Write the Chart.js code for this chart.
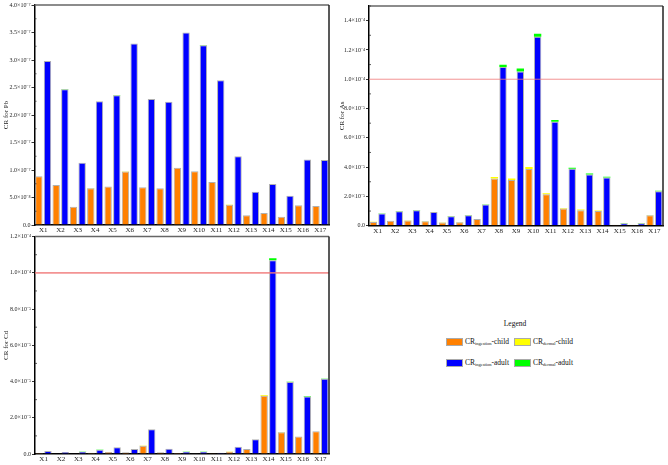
<!DOCTYPE html>
<html>
<head>
<meta charset="utf-8">
<script src="https://cdn.jsdelivr.net/npm/chart.js@4.4.1/dist/chart.umd.min.js"></script>
<style>
  html, body { margin: 0; padding: 0; background: #fff; }
  body { width: 668px; height: 465px; position: relative; overflow: hidden; font-family: 'Liberation Serif', serif; }
  .panel { position: absolute; }
  #legend { position: absolute; left: 430px; top: 316px; width: 170px; font-size: 7.5px; color: #111; -webkit-font-smoothing: antialiased; }
  #legend .title { position: absolute; left: 70px; top: 3px; width: 30px; text-align: center; }
  #legend .item { position: absolute; white-space: nowrap; line-height: 8px; color: #111; }
  #legend .sw { display: inline-block; width: 15px; height: 6px; border: 1px solid #aaa; vertical-align: middle; margin-right: 2px; }
  #legend sub { font-size: 4.5px; vertical-align: -1px; color: #111; }
</style>
</head>
<body>
<div class="panel" style="left:0;top:0;width:334px;height:235px"><canvas id="cPb"></canvas></div>
<div class="panel" style="left:336px;top:0;width:332px;height:235px"><canvas id="cAs"></canvas></div>
<div class="panel" style="left:0;top:232px;width:334px;height:233px"><canvas id="cCd"></canvas></div>
<div id="legend">
  <div class="title">Legend</div>
  <div class="item" style="left:16px;top:22px"><span class="sw" style="background:#FF8000"></span>CR<sub>ingestion</sub>-child</div>
  <div class="item" style="left:84px;top:22px"><span class="sw" style="background:#FFFF00"></span>CR<sub>dermal</sub>-child</div>
  <div class="item" style="left:16px;top:43px"><span class="sw" style="background:#0000FF"></span>CR<sub>ingestion</sub>-adult</div>
  <div class="item" style="left:84px;top:43px"><span class="sw" style="background:#00FF00"></span>CR<sub>dermal</sub>-adult</div>
</div>
<script>
const categories = ['X1','X2','X3','X4','X5','X6','X7','X8','X9','X10','X11','X12','X13','X14','X15','X16','X17'];

// Pb
const pbIngChild = [0.885e-7,0.727e-7,0.33e-7,0.67e-7,0.70e-7,0.975e-7,0.685e-7,0.667e-7,1.04e-7,0.976e-7,0.78e-7,0.37e-7,0.176e-7,0.218e-7,0.15e-7,0.357e-7,0.345e-7];
const pbDerChild = [1e-10,1e-10,1e-10,1e-10,1e-10,1e-10,1e-10,1e-10,1e-10,1e-10,1e-10,1e-10,1e-10,1e-10,1e-10,1e-10,1e-10];
const pbIngAdult = [2.98e-7,2.47e-7,1.13e-7,2.25e-7,2.36e-7,3.30e-7,2.29e-7,2.24e-7,3.50e-7,3.27e-7,2.63e-7,1.25e-7,0.605e-7,0.745e-7,0.53e-7,1.19e-7,1.18e-7];
const pbDerAdult = [2e-10,2e-10,1e-10,2e-10,2e-10,2e-10,2e-10,2e-10,2e-10,2e-10,2e-10,1e-10,1e-10,1e-10,1e-10,1e-10,1e-10];
const pbTicks = ['0.0','5.0×10⁻⁸','1.0×10⁻⁷','1.5×10⁻⁷','2.0×10⁻⁷','2.5×10⁻⁷','3.0×10⁻⁷','3.5×10⁻⁷','4.0×10⁻⁷'];

// As
const asIngChild = [0.26e-5,0.33e-5,0.36e-5,0.31e-5,0.22e-5,0.24e-5,0.45e-5,3.23e-5,3.12e-5,3.87e-5,2.14e-5,1.17e-5,1.06e-5,1.00e-5,0.06e-5,0.06e-5,0.71e-5];
const asDerChild = [0.01e-5,0.01e-5,0.01e-5,0.01e-5,0.01e-5,0.01e-5,0.01e-5,0.10e-5,0.10e-5,0.13e-5,0.08e-5,0.04e-5,0.04e-5,0.03e-5,0.01e-5,0.01e-5,0.02e-5];
const asIngAdult = [0.84e-5,0.99e-5,1.06e-5,0.93e-5,0.65e-5,0.72e-5,1.44e-5,10.84e-5,10.53e-5,12.9e-5,7.10e-5,3.88e-5,3.49e-5,3.29e-5,0.17e-5,0.17e-5,2.35e-5];
const asDerAdult = [0.01e-5,0.01e-5,0.01e-5,0.01e-5,0.01e-5,0.01e-5,0.02e-5,0.15e-5,0.20e-5,0.20e-5,0.12e-5,0.07e-5,0.07e-5,0.05e-5,0.01e-5,0.01e-5,0.03e-5];
const asTicks = ['0.0','2.0×10⁻⁵','4.0×10⁻⁵','6.0×10⁻⁵','8.0×10⁻⁵','1.0×10⁻⁴','1.2×10⁻⁴','1.4×10⁻⁴'];

// Cd
const cdIngChild = [0.05e-5,0.03e-5,0.03e-5,0.07e-5,0.11e-5,0.09e-5,0.46e-5,0.09e-5,0.05e-5,0.04e-5,0.01e-5,0.13e-5,0.27e-5,3.22e-5,1.20e-5,0.96e-5,1.25e-5];
const cdDerChild = [0.001e-5,0.001e-5,0.001e-5,0.001e-5,0.002e-5,0.002e-5,0.005e-5,0.002e-5,0.001e-5,0.001e-5,0.001e-5,0.002e-5,0.004e-5,0.03e-5,0.01e-5,0.01e-5,0.01e-5];
const cdIngAdult = [0.16e-5,0.11e-5,0.13e-5,0.24e-5,0.37e-5,0.27e-5,1.36e-5,0.29e-5,0.13e-5,0.13e-5,0.07e-5,0.40e-5,0.81e-5,10.7e-5,3.97e-5,3.18e-5,4.15e-5];
const cdDerAdult = [0.002e-5,0.002e-5,0.002e-5,0.003e-5,0.004e-5,0.003e-5,0.01e-5,0.003e-5,0.002e-5,0.002e-5,0.001e-5,0.005e-5,0.01e-5,0.10e-5,0.02e-5,0.02e-5,0.02e-5];
const cdTicks = ['0.0','2.0×10⁻⁵','4.0×10⁻⁵','6.0×10⁻⁵','8.0×10⁻⁵','1.0×10⁻⁴','1.2×10⁻⁴'];

const riskThreshold = 1e-4;

const FONT = "'Liberation Serif', 'Times New Roman', serif";

const framePlugin = {
  id: 'frame',
  afterDraw(chart) {
    const a = chart.chartArea, ctx = chart.ctx;
    ctx.save();
    ctx.lineWidth = 1.5;
    ctx.strokeStyle = '#666';
    ctx.beginPath(); ctx.moveTo(a.left, a.top); ctx.lineTo(a.right, a.top); ctx.stroke();
    ctx.strokeStyle = '#222';
    ctx.beginPath(); ctx.moveTo(a.right, a.top); ctx.lineTo(a.right, a.bottom); ctx.stroke();
    // minor ticks
    const y = chart.scales.y;
    const tv = y.ticks.map(t => t.value);
    ctx.lineWidth = 0.8; ctx.strokeStyle = '#333';
    for (let i = 0; i < tv.length; i++) {
      const next = i + 1 < tv.length ? tv[i+1] : tv[i] + (tv[1]-tv[0]);
      const mid = (tv[i] + next) / 2;
      if (mid > y.max) continue;
      const py = y.getPixelForValue(mid);
      ctx.beginPath(); ctx.moveTo(a.left, py); ctx.lineTo(a.left + 2, py); ctx.stroke();
    }
    ctx.restore();
  }
};

const thresholdPlugin = {
  id: 'threshold',
  afterDatasetsDraw(chart, args, opts) {
    if (!opts || !opts.value) return;
    const a = chart.chartArea, ctx = chart.ctx;
    const py = chart.scales.y.getPixelForValue(opts.value);
    ctx.save();
    ctx.strokeStyle = opts.color;
    ctx.lineWidth = opts.width;
    ctx.beginPath(); ctx.moveTo(a.left, py); ctx.lineTo(a.right, py); ctx.stroke();
    ctx.restore();
  }
};

function makeChart(id, ic, dc, ia, da, ticks, step, max, title, axisW, axisH, pad, threshold, thrW) {
  const ds = (label, data, color, stack, bw) => ({
    label, data, backgroundColor: color, stack,
    borderColor: 'rgba(150,150,150,0.75)', borderWidth: bw,
    categoryPercentage: 1.0, barPercentage: 0.85
  });
  return new Chart(document.getElementById(id), {
    type: 'bar',
    data: {
      labels: categories,
      datasets: [
        ds('CR ingestion-child', ic, '#FF8000', 'child', 1),
        ds('CR dermal-child', dc, '#FFFF00', 'child', 0),
        ds('CR ingestion-adult', ia, '#0000FF', 'adult', 1),
        ds('CR dermal-adult', da, '#00FF00', 'adult', 0)
      ]
    },
    options: {
      responsive: true,
      maintainAspectRatio: false,
      animation: false,
      layout: { padding: pad },
      plugins: {
        legend: { display: false },
        tooltip: { enabled: false },
        threshold: threshold ? { value: threshold, color: 'rgba(240,120,120,0.8)', width: thrW } : {}
      },
      scales: {
        x: {
          stacked: true,
          grid: { display: false, drawTicks: false },
          border: { display: true, color: '#000', width: 1.5 },
          ticks: { color: '#222', font: { family: FONT, size: 7 }, padding: 1, maxRotation: 0, autoSkip: false },
          afterFit(s) { s.height = axisH; }
        },
        y: {
          stacked: true,
          min: 0, max: max,
          grid: { drawOnChartArea: false, drawTicks: true, tickLength: 3, color: '#000', lineWidth: 0.8 },
          border: { display: true, color: '#000', width: 1.5 },
          ticks: {
            stepSize: step, includeBounds: false,
            color: '#222', font: { family: FONT, size: 6 }, padding: 1,
            callback: (v) => ticks[Math.round(v / step)]
          },
          title: { display: true, text: title, color: '#222', font: { family: FONT, size: 7 }, padding: { top: 2, bottom: 2 } },
          afterFit(s) { s.width = axisW; }
        }
      }
    },
    plugins: [framePlugin, thresholdPlugin]
  });
}

makeChart('cPb', pbIngChild, pbDerChild, pbIngAdult, pbDerAdult, pbTicks, 5e-8, 4e-7, 'CR for Pb', 34.5, 10, { top: 5, right: 5, left: 0, bottom: 0 }, null, 0);
makeChart('cAs', asIngChild, asDerChild, asIngAdult, asDerAdult, asTicks, 2e-5, 1.5e-4, 'CR for As', 33, 9.3, { top: 6, right: 5, left: 0, bottom: 0 }, riskThreshold, 1);
makeChart('cCd', cdIngChild, cdDerChild, cdIngAdult, cdDerAdult, cdTicks, 2e-5, 1.2e-4, 'CR for Cd', 35, 11, { top: 2.5, right: 5, left: 0, bottom: 0 }, riskThreshold, 1.8);
</script>
</body>
</html>
